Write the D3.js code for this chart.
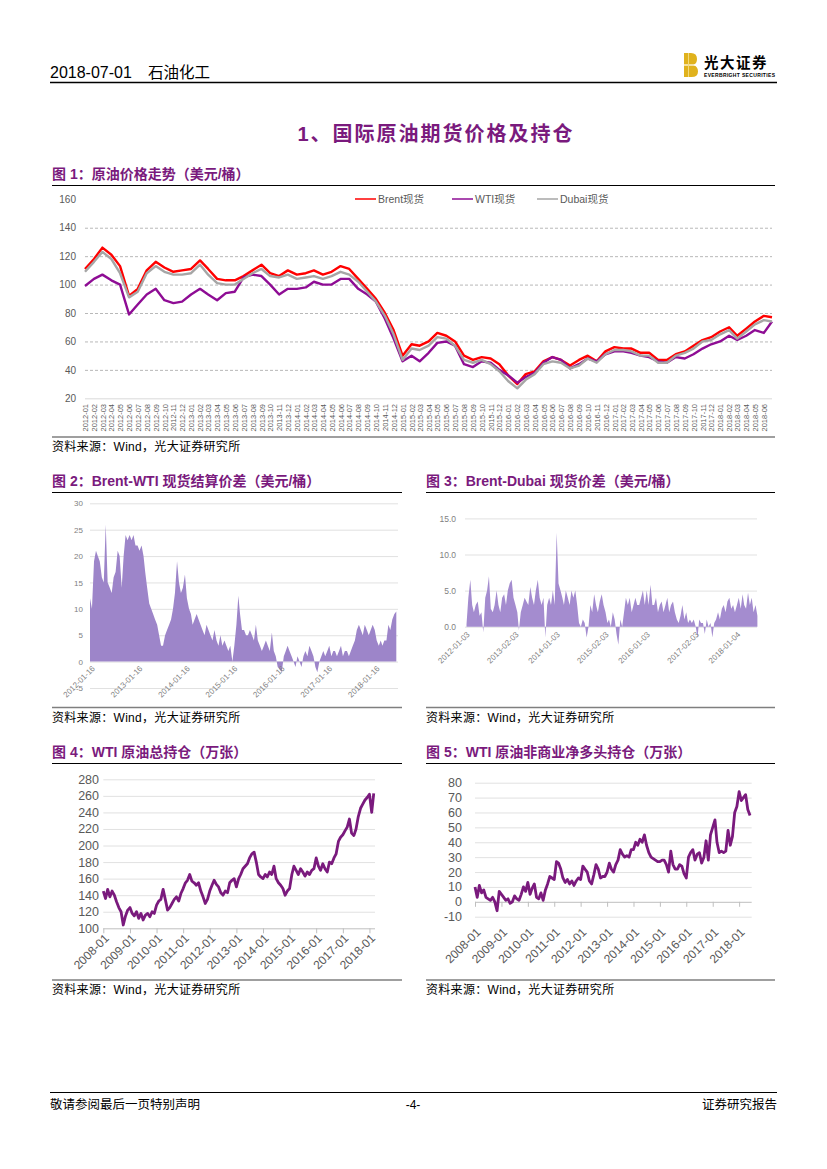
<!DOCTYPE html>
<html>
<head>
<meta charset="utf-8">
<script src="https://cdn.jsdelivr.net/npm/d3@7"></script>
<style>
  body { margin: 0; background: #fff; }
  svg { display: block; }
</style>
</head>
<body>
<script>
// ============================================ DATA ===================================================================
// fig 1: oil prices, monthly 2012-01 .. 2018-06 plus 2018-06-29
let oilDates = d3.timeMonth.range(new Date(2012, 0, 1), new Date(2018, 6, 1)).concat([new Date(2018, 5, 29)]);
let brent = [111, 118, 126, 121, 113, 92, 97, 110, 116, 112, 109, 110,
             111, 117, 111, 104, 103, 103, 106, 110, 114, 108, 106, 110,
             107, 108, 110, 107, 109, 113, 111, 104, 97, 90, 80, 68,
             50, 58, 57, 60, 66, 64, 60, 50, 47, 49, 48, 44,
             36, 30, 37, 39, 46, 49, 47, 43, 47, 50, 46, 53,
             56, 55, 55, 52, 52, 47, 47, 51, 53, 57, 61, 63,
             67, 70, 64, 69, 74, 78, 77];
let wti = [99, 104, 107, 103, 100, 79, 86, 93, 97, 89, 87, 88,
           93, 97, 93, 89, 94, 95, 105, 107, 106, 100, 93, 97,
           97, 98, 102, 100, 100, 104, 104, 97, 93, 88, 76, 62,
           46, 50, 46, 52, 59, 60, 57, 44, 42, 46, 45, 40,
           36, 31, 35, 38, 45, 49, 47, 41, 44, 48, 46, 51,
           53, 53, 52, 50, 49, 46, 45, 49, 48, 51, 55, 58,
           60, 64, 61, 64, 68, 66, 74];
let dubai = [109, 116, 123, 118, 108, 91, 95, 108, 113, 109, 107, 107,
             108, 114, 107, 101, 100, 100, 104, 108, 111, 106, 105, 107,
             104, 105, 106, 104, 106, 109, 107, 102, 95, 88, 78, 65,
             47, 55, 54, 57, 63, 62, 57, 47, 45, 47, 44, 39,
             32, 27, 33, 37, 44, 46, 45, 41, 43, 48, 45, 51,
             54, 54, 53, 50, 50, 45, 45, 50, 52, 55, 60, 61,
             65, 68, 62, 67, 72, 75, 74];
let oilYTicks = [20, 40, 60, 80, 100, 120, 140, 160];
let oilLegend = ['Brent现货', 'WTI现货', 'Dubai现货'];

// fig 2 / fig 3: spreads, twice a month 2012-01 .. 2018-06
let halfMonths = [];
d3.timeMonth.range(new Date(2012, 0, 1), new Date(2018, 6, 1)).forEach(function (m) {
    halfMonths.push(m, d3.timeDay.offset(m, 15));
});
let spreadBW = [12, 10, 19, 21, 20, 19, 16, 15, 26, 15, 14, 13, 16, 17, 21, 20, 14, 20, 24, 23, 24, 23, 24, 22,
                22, 21, 22, 20, 17, 14, 11, 10, 9, 8, 7, 5, 3, 3, 5, 6, 7, 8, 10, 13, 19, 15, 13, 14,
                16.5, 12, 10, 9, 7, 8, 9, 8, 7, 6, 5, 7, 6, 5, 4, 6, 4, 3, 5, 3, 4, 3, 2, 3,
                0, 3, 7, 12.5, 9, 6, 6, 5, 5, 6, 5, 4, 7, 4, 3, 2, 3, 4, 3, 2, 5.5, 2, 1, -1,
                -1.5, -2, 1, 2, 3, 2, 1, 0, -1, 1, 0, -1, 1, 2, 1, 3, 2, 1, -1, -2, 0, 1, 2, 1,
                2, 3, 1, 2, 2, 1, 2, 3, 1, 2, 2, 1, 2, 3, 4, 6, 7, 6, 5, 7, 6, 5, 6, 7,
                6, 4, 3, 4, 3, 4, 4, 7, 6, 8, 9, 9.5];
let spreadBWTicks = ['2012-01-16', '2013-01-16', '2014-01-16', '2015-01-16', '2016-01-16', '2017-01-16', '2018-01-16'];
let spreadBWYTicks = [-5, 0, 5, 10, 15, 20, 25, 30];

let spreadBD = [0.3, 4, 6.5, 3, 2, 3, 3.5, 1.5, 2, -0.8, 4, 5, 7, 2.5, 2, 3, 5, 3, 2, 4, 4.5, 3, 5, 6,
                6.5, 4, 3, 2, -0.5, 2, 3, 4, 3.5, 3, 5.5, 4, 3, 5, 6.5, 4, 3, 4, -1.5, 3, 4, 3, 5, 3,
                13, 6, 5, 4, 3, 5, 4, 3, 5, 4, 5, 3, 0.5, 0, 1, 0.5, -1.5, 0, 3, 2, 4.5, 3, 2, 3.5,
                4.5, 3, 2, 0.5, 1, 0, 2, 1, -1, -2.5, 1, 0, 2, 4, 3, 4, 2, 3, 4, 3, 3, 4, 5, 3,
                5, 3, 5.8, 3, 3, 4, 2, 3, 3.5, 2, 3, 4, 2, 3, 3.5, 2, 1, 0.5, 1.5, 3, 1, 2, 0.5, 1,
                0.5, 1, 0, -1.5, 1, 0.5, 0.5, -1, 1, 0, 0.5, -1.5, 0.5, 1, 2, 1, 2.5, 3, 2, 3.5, 4, 2.5, 3, 2,
                3, 4, 2.5, 4.5, 3, 2.5, 4.7, 3, 4, 2, 3, 1.5];
let spreadBDTicks = ['2012-01-03', '2013-02-03', '2014-01-03', '2015-02-03', '2016-01-03', '2017-02-03', '2018-01-04'];
let spreadBDYTicks = [0, 5, 10, 15];

// fig 4: WTI total open interest, monthly 2008-01 .. 2018-03
let oiDates = d3.timeMonth.range(new Date(2008, 0, 1), new Date(2018, 3, 1));
let openInterest = [145, 136, 147, 138, 145, 140, 132, 125, 120, 104, 115, 122,
                    125, 118, 115, 120, 112, 118, 110, 116, 118, 114, 120, 118,
                    128, 133, 135, 147, 135, 122, 125, 130, 135, 138, 133, 142,
                    148, 155, 158, 165, 157, 155, 152, 155, 145, 138, 130, 135,
                    145, 152, 158, 153, 150, 143, 140, 145, 143, 155, 158, 160,
                    150, 160, 165, 172, 175, 178, 185, 190, 192, 180, 165, 162,
                    160, 165, 162, 168, 165, 175, 160, 155, 152, 148, 140, 145,
                    148, 165, 175, 170, 165, 172, 168, 163, 168, 165, 170, 172,
                    185, 175, 170, 178, 172, 168, 180, 178, 185, 190, 205, 210,
                    213, 218, 222, 232, 215, 212, 220, 235, 245, 250, 255, 258,
                    262, 240, 263];
let oiYTicks = [100, 120, 140, 160, 180, 200, 220, 240, 260, 280];

// fig 5: WTI non-commercial net long, monthly 2008-01 .. 2018-06
let netDates = d3.timeMonth.range(new Date(2008, 0, 1), new Date(2018, 6, 1));
let netLong = [10, 3, 11, 6, 8, 3, 2, 1, 3, 0, -6, 7,
               5, 3, 1, 2, -1, 0, 4, 2, 1, 5, 10, 7,
               13, 5, 9, 12, 3, 2, 6, 1, 8, 12, 17, 16,
               15, 27, 26, 22, 16, 13, 15, 12, 14, 11, 14, 16,
               15, 24, 22, 20, 14, 12, 18, 25, 22, 16, 17, 17,
               20, 26, 22, 20, 25, 28, 35, 32, 30, 31, 30, 35,
               35, 40, 38, 42, 40, 45, 38, 33, 30, 29, 28, 27,
               27, 28, 28, 25, 20, 34, 25, 22, 22, 25, 24, 19,
               16, 30, 33, 35, 28, 32, 33, 26, 30, 41, 28, 45,
               50, 55, 40, 33, 34, 33, 34, 48, 38, 44, 60, 64,
               74, 68, 70, 72, 62, 58];
let netYTicks = [-10, 0, 10, 20, 30, 40, 50, 60, 70, 80];

let yearTicks = d3.timeYear.range(new Date(2008, 0, 1), new Date(2018, 1, 1));

// ============================================ PAGE ===================================================================
let font = '"Liberation Sans", "Noto Sans CJK SC", sans-serif';
let purple = '#7a1a7d';
let gray = '#595959';
let parseDay = d3.timeParse('%Y-%m-%d');

let svg = d3.select('body')
    .append('svg')
        .attr('width', 827)
        .attr('height', 1169)
        .style('font-family', font);

// header
svg.append('text').attr('x', 50).attr('y', 78).attr('font-size', 16).text('2018-07-01');
svg.append('text').attr('x', 148).attr('y', 78).attr('font-size', 15.5).text('石油化工');
svg.append('line')
    .attr('x1', 50).attr('x2', 777).attr('y1', 82.5).attr('y2', 82.5)
    .attr('stroke', '#000').attr('stroke-width', 1.5);

let logo = svg.append('g').attr('transform', 'translate(684,53)');
logo.append('path')
    .attr('d', 'M0,0 H7 Q13,0 13,6 Q13,10.5 9.5,12 Q14,13.5 14,18.5 Q14,24 7.5,24 H0 Z')
    .attr('fill', '#e0b21d');
logo.append('line').attr('x1', 0).attr('x2', 12).attr('y1', 12).attr('y2', 12).attr('stroke', '#fff').attr('stroke-width', 1.2);
logo.append('line').attr('x1', 4.5).attr('x2', 4.5).attr('y1', 0).attr('y2', 24).attr('stroke', '#f3d97a').attr('stroke-width', 1);
svg.append('text').attr('x', 704).attr('y', 68).attr('font-size', 14.5).attr('font-weight', 'bold')
    .attr('letter-spacing', 1.5).attr('font-family', '"Noto Sans CJK SC", sans-serif').text('光大证券');
svg.append('text').attr('x', 704).attr('y', 76.5).attr('font-size', 5).attr('font-weight', 'bold')
    .attr('textLength', 71).text('EVERBRIGHT SECURITIES');

// section title
svg.append('text')
    .attr('x', 436).attr('y', 141).attr('text-anchor', 'middle')
    .attr('font-size', 20).attr('font-weight', 'bold').attr('letter-spacing', 2)
    .attr('fill', purple).text('1、国际原油期货价格及持仓');

// footer
svg.append('line')
    .attr('x1', 50).attr('x2', 777).attr('y1', 1092.5).attr('y2', 1092.5)
    .attr('stroke', '#000').attr('stroke-width', 1);
svg.append('text').attr('x', 50).attr('y', 1109).attr('font-size', 12.5).text('敬请参阅最后一页特别声明');
svg.append('text').attr('x', 413).attr('y', 1109).attr('font-size', 12).attr('text-anchor', 'middle').text('-4-');
svg.append('text').attr('x', 777).attr('y', 1109).attr('font-size', 12.5).attr('text-anchor', 'end').text('证券研究报告');

// ============================================ HELPERS ================================================================
function chartTitle(x, y, x2, label) {
    svg.append('text')
        .attr('x', x).attr('y', y)
        .attr('font-size', 14).attr('font-weight', 'bold')
        .attr('fill', purple).text(label);
    svg.append('line')
        .attr('x1', x).attr('x2', x2).attr('y1', y + 6.5).attr('y2', y + 6.5)
        .attr('stroke', '#000').attr('stroke-width', 1.2);
}

function sourceNote(x, y, x2) {
    svg.append('line')
        .attr('x1', x).attr('x2', x2).attr('y1', y).attr('y2', y)
        .attr('stroke', '#7f7f7f').attr('stroke-width', 1.5);
    svg.append('text')
        .attr('x', x).attr('y', y + 14)
        .attr('font-size', 12).attr('letter-spacing', 0.3)
        .text('资料来源：Wind，光大证券研究所');
}

function gridLines(g, y, values, x1, x2, color, dash) {
    let a = g.append('g')
        .attr('transform', 'translate(' + x1 + ',0)')
        .call(d3.axisLeft(y).tickValues(values).tickSize(-(x2 - x1)).tickFormat(''));
    a.select('.domain').remove();
    a.selectAll('line').attr('stroke', color).attr('stroke-width', 0.8).attr('stroke-dasharray', dash || null);
    return a;
}

function yLabels(g, y, values, x, size, color, fmt) {
    let a = g.append('g')
        .attr('transform', 'translate(' + x + ',0)')
        .call(d3.axisLeft(y).tickValues(values).tickSize(0).tickPadding(0).tickFormat(fmt || function (d) { return d; }));
    a.select('.domain').remove();
    a.selectAll('text').attr('font-size', size).attr('fill', color).attr('font-family', font);
    return a;
}

function xLabels(g, x, values, y, fmt, size, color, rot, dx, dy) {
    let a = g.append('g')
        .attr('transform', 'translate(0,' + y + ')')
        .call(d3.axisBottom(x).tickValues(values).tickSize(0).tickFormat(fmt));
    a.select('.domain').remove();
    a.selectAll('text')
        .attr('font-size', size).attr('fill', color).attr('font-family', font)
        .attr('text-anchor', 'end').attr('y', 0).attr('dy', '0.35em')
        .attr('transform', 'translate(' + dx + ',' + dy + ') rotate(' + rot + ')');
    return a;
}

// ============================================ FIG 1 ==================================================================
chartTitle(52, 179, 775, '图 1：原油价格走势（美元/桶）');

let g1 = svg.append('g');
let x1 = d3.scaleTime().domain([oilDates[0], oilDates[oilDates.length - 1]]).range([85, 772]);
let y1 = d3.scaleLinear().domain([20, 160]).range([398.3, 199.3]);

gridLines(g1, y1, oilYTicks.filter(function (d) { return d > 20 && d < 160; }), 85, 772, '#a6a6a6', '3,2');
gridLines(g1, y1, [20], 85, 772, '#d0d0d0');
yLabels(g1, y1, oilYTicks, 76, 10, gray);
xLabels(g1, x1, d3.timeMonth.range(oilDates[0], new Date(2018, 6, 1)), 404,
        d3.timeFormat('%Y-%m'), 7.5, gray, -90, 0, 0);

let oilSeries = [
    { name: oilLegend[0], values: brent, color: '#ff0000' },
    { name: oilLegend[1], values: wti, color: '#8e0c94' },
    { name: oilLegend[2], values: dubai, color: '#a6a6a6' }
];
let oilLine = d3.line()
    .x(function (d, i) { return x1(oilDates[i]); })
    .y(function (d) { return y1(d); });

g1.selectAll('path.oil')
    .data(oilSeries).enter()
    .append('path')
        .attr('class', 'oil')
        .attr('fill', 'none')
        .attr('stroke', function (d) { return d.color; })
        .attr('stroke-width', 2.4)
        .attr('stroke-linejoin', 'round')
        .attr('d', function (d) { return oilLine(d.values); });

let legendX = [355, 452, 537];
let legend = g1.selectAll('g.legend')
    .data(oilSeries).enter()
    .append('g')
        .attr('class', 'legend')
        .attr('transform', function (d, i) { return 'translate(' + legendX[i] + ',199)'; });
legend.append('line')
    .attr('x1', 0).attr('x2', 21).attr('y1', 0).attr('y2', 0)
    .attr('stroke', function (d) { return d.color; }).attr('stroke-width', 1.5);
legend.append('text')
    .attr('x', 23).attr('y', 0).attr('dy', '0.35em')
    .attr('font-size', 10.5).attr('fill', gray)
    .text(function (d) { return d.name; });

sourceNote(52, 437, 775);

// ============================================ FIG 2 ==================================================================
chartTitle(52, 486, 402, '图 2：Brent-WTI 现货结算价差（美元/桶）');

let g2 = svg.append('g');
let x2 = d3.scaleTime().domain([new Date(2012, 0, 1), new Date(2018, 5, 29)]).range([90, 398]);
let y2 = d3.scaleLinear().domain([-5, 30]).range([688, 503.3]);

gridLines(g2, y2, spreadBWYTicks, 90, 398, '#d9d9d9');
g2.append('path')
    .attr('fill', '#9d85c9')
    .attr('d', d3.area()
        .x(function (d, i) { return x2(halfMonths[i]); })
        .y0(y2(0))
        .y1(function (d) { return y2(d); })(spreadBW));
yLabels(g2, y2, spreadBWYTicks, 83, 8, '#7f7f7f');
xLabels(g2, x2, spreadBWTicks.map(parseDay), 667, d3.timeFormat('%Y-%m-%d'), 8, '#7f7f7f', -45, 1, 0);

sourceNote(52, 707.5, 402);

// ============================================ FIG 3 ==================================================================
chartTitle(426, 486, 775, '图 3：Brent-Dubai 现货价差（美元/桶）');

let g3 = svg.append('g');
let x3 = d3.scaleTime().domain([new Date(2012, 0, 1), new Date(2018, 5, 29)]).range([466.5, 759]);
let y3 = d3.scaleLinear().domain([0, 15]).range([626.7, 518.4]);

gridLines(g3, y3, spreadBDYTicks, 465, 757, '#d9d9d9');
g3.append('path')
    .attr('fill', '#a48ccf')
    .attr('d', d3.area()
        .x(function (d, i) { return x3(halfMonths[i]); })
        .y0(y3(0))
        .y1(function (d) { return y3(d); })(spreadBD));
yLabels(g3, y3, spreadBDYTicks, 456, 8.5, '#7f7f7f', d3.format('.1f'));
xLabels(g3, x3, spreadBDTicks.map(parseDay), 633, d3.timeFormat('%Y-%m-%d'), 8, '#7f7f7f', -45, 1, 0);

sourceNote(426, 707.5, 775);

// ============================================ FIG 4 ==================================================================
chartTitle(52, 757, 402, '图 4：WTI 原油总持仓（万张）');

let g4 = svg.append('g');
let x4 = d3.scaleTime().domain([new Date(2008, 0, 1), new Date(2018, 3, 1)]).range([103.3, 376]);
let y4 = d3.scaleLinear().domain([100, 280]).range([928.3, 779.3]);

gridLines(g4, y4, oiYTicks.slice(1), 103.3, 375, '#d9d9d9');
let ax4 = g4.append('g')
    .attr('transform', 'translate(0,' + y4(100) + ')')
    .call(d3.axisBottom(x4).tickValues(yearTicks).tickSize(5).tickFormat(''));
ax4.select('.domain').attr('d', 'M103.3,0.5H375').attr('stroke', '#bfbfbf');
ax4.selectAll('line').attr('stroke', '#bfbfbf');
yLabels(g4, y4, oiYTicks, 99, 12.5, gray);
xLabels(g4, x4, yearTicks, 936, d3.timeFormat('%Y-%m'), 12, gray, -45, 3, 0);

g4.append('path')
    .attr('fill', 'none')
    .attr('stroke', purple)
    .attr('stroke-width', 2.8)
    .attr('stroke-linejoin', 'round')
    .attr('d', d3.line()
        .x(function (d, i) { return x4(oiDates[i]); })
        .y(function (d) { return y4(d); })(openInterest));

sourceNote(52, 980, 402);

// ============================================ FIG 5 ==================================================================
chartTitle(426, 757, 775, '图 5：WTI 原油非商业净多头持仓（万张）');

let g5 = svg.append('g');
let x5 = d3.scaleTime().domain([new Date(2008, 0, 1), new Date(2018, 5, 24)]).range([475, 751.7]);
let y5 = d3.scaleLinear().domain([-10, 80]).range([916.7, 782.7]);

gridLines(g5, y5, netYTicks.filter(function (d) { return d !== 0; }), 475, 751.7, '#d9d9d9');
let ax5 = g5.append('g')
    .attr('transform', 'translate(0,' + y5(0) + ')')
    .call(d3.axisBottom(x5).tickValues(yearTicks).tickSize(5).tickFormat(''));
ax5.select('.domain').attr('d', 'M475,0.5H751.7').attr('stroke', '#bfbfbf');
ax5.selectAll('line').attr('stroke', '#bfbfbf');
yLabels(g5, y5, netYTicks, 462, 12.5, gray);
xLabels(g5, x5, yearTicks, 930, d3.timeFormat('%Y-%m'), 12, gray, -45, 3, 0);

g5.append('path')
    .attr('fill', 'none')
    .attr('stroke', purple)
    .attr('stroke-width', 2.8)
    .attr('stroke-linejoin', 'round')
    .attr('d', d3.line()
        .x(function (d, i) { return x5(netDates[i]); })
        .y(function (d) { return y5(d); })(netLong));

sourceNote(426, 980, 775);
</script>
</body>
</html>
